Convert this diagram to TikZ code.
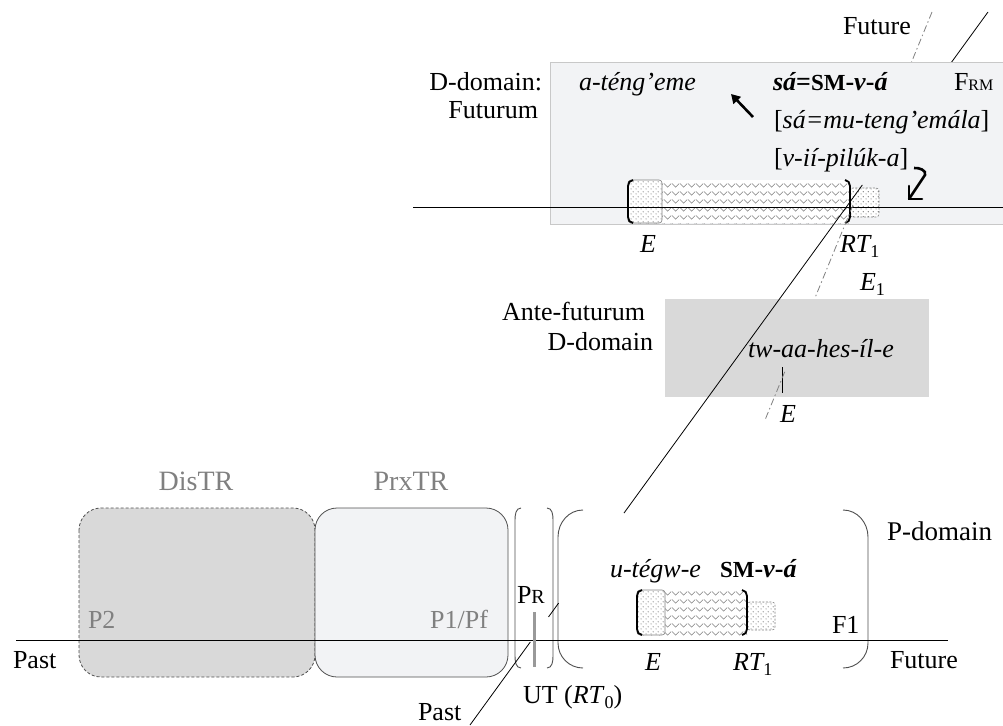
\documentclass[tikz,border=0pt]{standalone}
\usepackage{fontspec}
\setmainfont{Liberation Serif}
\usetikzlibrary{arrows.meta,patterns.meta,calc}
\definecolor{boxlight}{HTML}{F2F3F5}
\definecolor{boxgray}{HTML}{D9D9D9}
\definecolor{txtgray}{HTML}{808080}
\definecolor{edgegray}{HTML}{C8C8C8}
\definecolor{parengray}{HTML}{505050}
\tikzdeclarepattern{name=mydots, type=uncolored,
  bounding box={(0pt,0pt) and (5pt,5pt)}, tile size={(5pt,5pt)},
  code={\pgfpathcircle{\pgfqpoint{1.25pt}{1.25pt}}{0.65pt}\pgfpathcircle{\pgfqpoint{3.75pt}{3.75pt}}{0.65pt}\pgfusepath{fill}}}
\tikzdeclarepattern{name=mywaves, type=uncolored,
  bounding box={(0pt,0pt) and (8pt,8pt)}, tile size={(8pt,8pt)},
  code={\pgfsetlinewidth{0.6pt}\pgfpathmoveto{\pgfqpoint{0pt}{6pt}}\pgfpathlineto{\pgfqpoint{4pt}{2pt}}\pgfpathlineto{\pgfqpoint{8pt}{6pt}}\pgfusepath{stroke}}}
\newcommand{\mysub}[1]{\raisebox{-0.22em}{\fontsize{18}{18}\selectfont\upshape #1}}
% #1 left, #2 right bracket, #3 dotted right, #4 top, #5 bottom, #6 ext right, #7 ext top, #8 ext bottom
\newcommand{\drawbar}[8]{%
  \fill[white] (#1,#4) rectangle (#2,#5);
  \fill[pattern=mywaves, pattern color=gray] (#1,#4) rectangle (#2,#5);
  \draw[gray, line width=0.6pt, fill=white, rounded corners=3pt, postaction={pattern=mydots, pattern color=gray!85!black}] (#1,#4) rectangle (#3,#5);
  \draw[gray, line width=0.6pt, dash pattern=on 2pt off 1.5pt, fill=white, rounded corners=3pt, postaction={pattern=mydots, pattern color=gray!85!black}] (#2,#7) rectangle (#6,#8);
  \draw[brk] ({#1+5},#4) to[out=180,in=90] (#1,{#4+6}) -- (#1,{#5-6}) to[out=-90,in=180] ({#1+5},#5);
  \draw[brk] ({#2-5},#4) to[out=0,in=90] (#2,{#4+6}) -- (#2,{#5-6}) to[out=-90,in=0] ({#2-5},#5);
}
\begin{document}
\begin{tikzpicture}[x=1pt,y=-1pt,
  lbl/.style={font=\fontsize{26}{30}\selectfont, inner sep=0pt, outer sep=0pt},
  ilbl/.style={font=\fontsize{26}{30}\selectfont\itshape, inner sep=0pt, outer sep=0pt},
  glbl/.style={font=\fontsize{26}{30}\selectfont, text=txtgray, inner sep=0pt, outer sep=0pt},
  tline/.style={line width=0.8pt, black},
  dline/.style={line width=0.8pt, gray, dash pattern=on 7pt off 3pt on 1.5pt off 3pt},
  paren/.style={line width=0.9pt, draw=parengray},
  brk/.style={line width=1.8pt, black},
  arr/.style={line width=2.6pt, black}
]
\useasboundingbox (0,0) rectangle (1003,725);
\fill[white] (0,0) rectangle (1003,725);

% guide lines
\coordinate (LA) at (988,12);
\coordinate (LB) at (470,725);
\coordinate (DA) at (932,12);
\coordinate (DB) at (765,420);

% top segments of diagonal lines
\draw[dline] (DA) -- ($(DA)!0.137!(DB)$);
\draw[tline] (LA) -- ($(LA)!0.0785!(LB)$);

% Top D-domain box
\filldraw[fill=boxlight, draw=edgegray, line width=1pt] (550,63) rectangle (1010,224);
\drawbar{628}{850}{662}{180}{223}{879}{188}{217}
\draw[tline, line width=0.7pt] (413,207) -- (1003,207);

\node[lbl, anchor=base west] (futtop) at (843,35) {Future};
\node[lbl, anchor=base east] (ddom) at (542,90) {D-domain:};
\node[lbl, anchor=base east] (futm) at (538,118) {Futurum};
\node[ilbl, anchor=base west] (atg) at (579,90) {a-téng’eme};
\node[lbl, anchor=base west] (sa) at (773,90) {\textbf{\textit{sá}={\fontsize{23}{23}\selectfont SM}-\textit{v}-\textit{á}}};
\node[ilbl, anchor=base west] (smu) at (774,128) {{\upshape[}sá=mu-teng’emála{\upshape]}};
\node[ilbl, anchor=base west] (vii) at (774,166) {{\upshape[}v-ií-pilúk-a{\upshape]}};
\node[lbl, anchor=base west] (frm) at (954,90) {F{\fontsize{16}{16}\selectfont RM}};
\draw[arr, -{Triangle[length=9pt,width=10pt]}] (753,117) -- (731,94);
\draw[arr] (914,168) to[out=5,in=70] (925,175) -- (909,199);
\draw[arr, line cap=round] (909,186) -- (909,199) -- (922,199);

\node[ilbl, anchor=base west] (etop) at (640,252) {E};
\node[ilbl, anchor=base west] (rttop) at (840,252) {RT\mysub{1}};
\node[ilbl, anchor=base west] (e1) at (860,290) {E\mysub{1}};

% Ante-futurum box
\fill[boxgray] (665,299) rectangle (929,397);
\node[lbl, anchor=base east] (ante1) at (645,320) {Ante-futurum};
\node[lbl, anchor=base east] (ante2) at (653,350) {D-domain};
\node[ilbl, anchor=base west] (tw) at (748,357) {tw-aa-hes-íl-e};
\draw[line width=0.9pt] (782,367) -- (782,393);
\node[ilbl, anchor=base west] (eante) at (780,422) {E};

% middle segments
\draw[dline] ($(DA)!0.473!(DB)$) -- ($(DA)!0.701!(DB)$);
\draw[dline] ($(DA)!0.882!(DB)$) -- (DB);
\draw[tline] ($(LA)!0.2426!(LB)$) -- ($(LA)!0.7027!(LB)$);

% Bottom P-domain
\node[glbl, font=\fontsize{28}{32}\selectfont, anchor=base] (distr) at (196,490) {DisTR};
\node[glbl, font=\fontsize{28}{32}\selectfont, anchor=base] (prxtr) at (411,490) {PrxTR};
\draw[draw=parengray, line width=0.8pt, dash pattern=on 3pt off 2pt, fill=boxgray, rounded corners=22pt] (79,508) rectangle (315,677);
\draw[draw=parengray, line width=0.8pt, fill=boxlight, rounded corners=22pt] (315,508) rectangle (508,677);
\node[glbl, anchor=base west] (p2) at (88,628) {P2};
\node[glbl, anchor=base east] (p1) at (488,628) {P1/Pf};

\draw[paren] (521,508) to[out=180,in=90] (515,520) -- (515,656) to[out=-90,in=180] (521,668);
\draw[paren] (547,508) to[out=0,in=90] (553,520) -- (553,656) to[out=-90,in=0] (547,668);
\draw[paren] (583,510) to[out=180,in=90] (558,537) -- (558,643) to[out=-90,in=180] (583,668);
\draw[paren] (843,510) to[out=0,in=90] (868,537) -- (868,643) to[out=-90,in=0] (843,668);

\node[lbl, anchor=base west] (pr) at (517,603) {P{\fontsize{20}{20}\selectfont R}};
\node[lbl, font=\fontsize{27}{32}\selectfont, anchor=base west] (pdom) at (887,540) {P-domain};
\node[ilbl, anchor=base west] (utg) at (610,577) {u-tégw-e};
\node[lbl, anchor=base west] (smv) at (720,577) {\textbf{{\fontsize{23}{23}\selectfont SM}-\textit{v}-\textit{á}}};
\drawbar{637}{747}{665}{590}{635}{775}{602}{630}
\node[lbl, anchor=base west] (f1) at (832,633) {F1};

\draw[tline] (16,640) -- (948,640);
\draw[line width=3pt, gray!80] (534,612) -- (534,667);

\draw[tline] ($(LA)!0.829!(LB)$) -- ($(LA)!0.8485!(LB)$);
\draw[tline] ($(LA)!0.8836!(LB)$) -- (LB);

\node[lbl, anchor=base west] (pastl) at (13,668) {Past};
\node[lbl, anchor=base west] (futr) at (890,668) {Future};
\node[ilbl, anchor=base west] (ebot) at (645,670) {E};
\node[ilbl, anchor=base west] (rtbot) at (733,670) {RT\mysub{1}};
\node[lbl, anchor=base west] (ut) at (523,703) {UT (\textit{RT}\mysub{0})};
\node[lbl, anchor=base west] (pastb) at (418,720) {Past};
\end{tikzpicture}
\end{document}
